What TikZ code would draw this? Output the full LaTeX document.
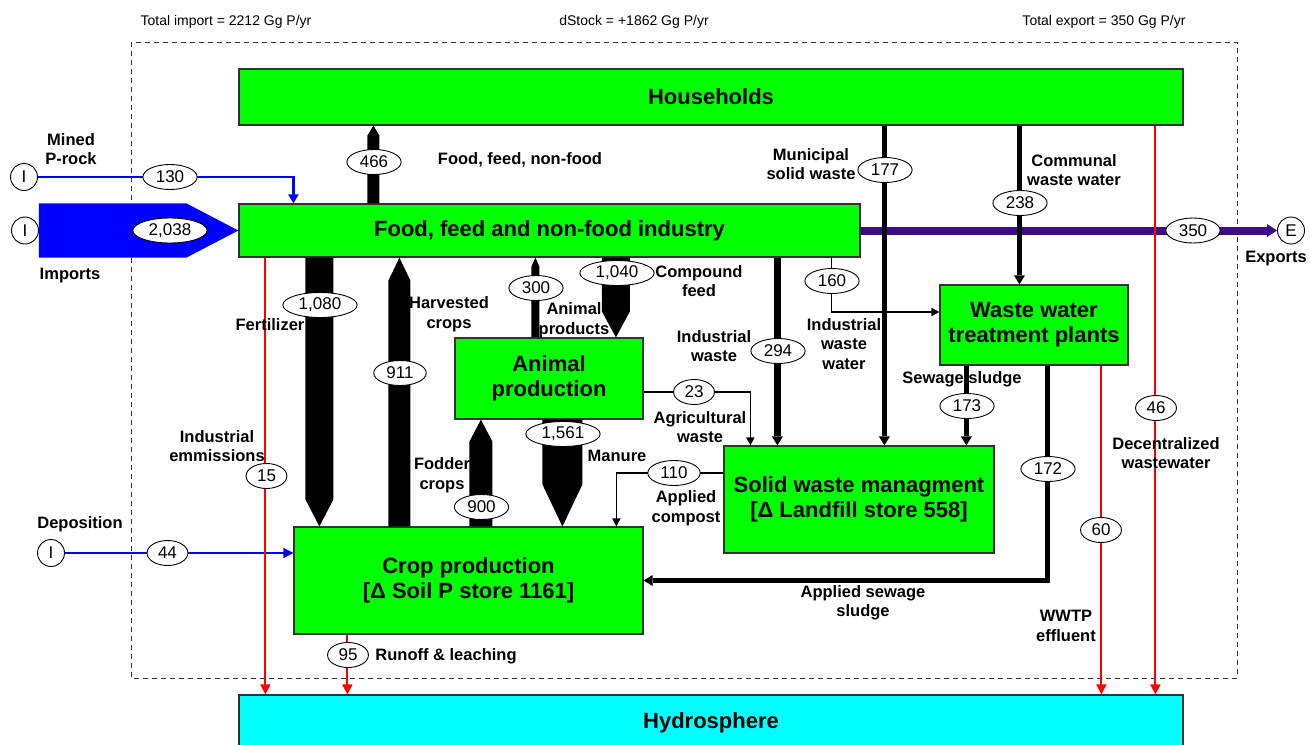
\documentclass[tikz,border=0pt]{standalone}
\usepackage{fontspec}
\setmainfont{Liberation Sans}
\usetikzlibrary{arrows.meta, shapes.geometric, calc}
\definecolor{boxgreen}{HTML}{00FF00}
\definecolor{hydrocyan}{HTML}{00FFFF}
\definecolor{inflowblue}{HTML}{0000FF}
\definecolor{exportpurple}{HTML}{3F0A8C}
\definecolor{lossred}{HTML}{FF0000}
\definecolor{edgegrey}{HTML}{333333}
% broad vertical flow: from anchor + shift, to anchor + shift, half width, head length
\newcommand{\fatflow}[6]{%
  \fill let \p1=($(#1)+(#2,0)$), \p2=($(#3)+(#4,0)$), \n1={(\y2>\y1)*2-1} in
    ({\x1-#5},\y1) -- ({\x1-#5},{\y2-(\n1)*#6}) -- (\x1,\y2)
    -- ({\x1+#5},{\y2-(\n1)*#6}) -- ({\x1+#5},\y1) -- cycle;}
\tikzset{
  procbox/.style={draw=edgegrey, line width=1.2pt, fill=boxgreen, inner sep=0pt,
    align=center, font=\fontsize{22}{25}\selectfont\bfseries},
  val/.style={ellipse, draw, fill=white, line width=0.9pt, inner xsep=5pt,
    inner ysep=0pt, minimum height=25pt, font=\fontsize{17}{17}\selectfont},
  src/.style={circle, draw, fill=white, line width=0.9pt, minimum size=27pt,
    inner sep=0pt, font=\fontsize{17}{17}\selectfont},
  lbl/.style={align=center, inner sep=0pt, font=\fontsize{16.5}{19.5}\selectfont\bfseries},
  headline/.style={inner sep=0pt, font=\fontsize{14}{16}\selectfont},
  heavyflow/.style={line width=#1, -{Triangle[length=9pt,width=11pt,line width=0pt]}},
  lightflow/.style={line width=1.6pt, -{Triangle[length=8pt,width=8pt]}},
  lossflow/.style={color=lossred, line width=1.9pt, -{Triangle[length=10pt,width=10pt]}}
}
\begin{document}
\begin{tikzpicture}[x=1pt, y=-1pt]
  \useasboundingbox (0,0) rectangle (1311,744);
  % system boundary and totals
  \draw[edgegrey, line width=1pt, dash pattern=on 5pt off 4pt] (131,42) rectangle (1237,678);
  \node[headline] (timport) at (226,22) {Total import = 2212 Gg P/yr};
  \node[headline] (dstock) at (634,22) {dStock = +1862 Gg P/yr};
  \node[headline] (texport) at (1104,22) {Total export = 350 Gg P/yr};

  % processes
  \node[procbox, minimum width=944pt, minimum height=56pt] (households) at (711,97) {Households};
  \node[procbox, minimum width=621pt, minimum height=53pt] (food) at (549.5,230.5) {Food, feed and non-food industry};
  \node[procbox, minimum width=188pt, minimum height=81pt] (animal) at (549,378.5) {Animal\\production};
  \node[procbox, minimum width=349pt, minimum height=107pt] (crop) at (468.5,580.5) {Crop production\\{}[Δ Soil P store 1161]};
  \node[procbox, minimum width=270pt, minimum height=107pt] (solid) at (859,499.5) {Solid waste managment\\{}[Δ Landfill store 558]};
  \node[procbox, minimum width=188pt, minimum height=80pt] (wwtp) at (1034,325) {Waste water\\treatment plants};
  \node[procbox, fill=hydrocyan, minimum width=944pt, minimum height=56pt] (hydro) at (711,723) {Hydrosphere};

  % sources and sink
  \node[src] (mineI) at (24,177) {I};
  \node[src] (impI) at (25,230.5) {I};
  \node[src] (depI) at (51,553) {I};
  \node[src] (expE) at (1291,230.5) {E};

  % inputs
  \fill[inflowblue] (impI.east |- food.north) -- ([xshift=-52pt]food.north west) -- (food.west)
    -- ([xshift=-52pt]food.south west) -- (impI.east |- food.south) -- cycle;
  \draw[inflowblue, line width=2.5pt, -{Triangle[length=9pt,width=10pt]}] (mineI.east) -| ([xshift=55pt]food.north west);
  \draw[inflowblue, line width=1.6pt, -{Triangle[length=10pt,width=10pt]}] (depI.east) -- (crop.west |- depI);

  % export
  \draw[exportpurple, line width=8pt, -{Triangle[length=10pt,width=13pt,line width=0pt]}] (food.east) -- (expE.west);

  % broad flows
  \fatflow{food.north west}{135}{households.south west}{135}{6pt}{10pt}
  \fatflow{food.south west}{81}{crop.north west}{26}{14pt}{27pt}
  \fatflow{crop.north west}{106}{food.south west}{161}{11pt}{23pt}
  \fatflow{animal.north west}{81}{food.south west}{297}{4pt}{9pt}
  \fatflow{food.south west}{377.5}{animal.north west}{161.5}{14pt}{26pt}
  \fatflow{crop.north west}{187.5}{animal.south west}{26.5}{11.5pt}{22pt}
  \fatflow{animal.south west}{108}{crop.north west}{269}{20pt}{42pt}

  % waste flows
  \draw[heavyflow=7pt] ([xshift=539pt]food.south west) -- ([xshift=54pt]solid.north west);
  \draw[heavyflow=4.5pt] ([xshift=646pt]households.south west) -- ([xshift=161pt]solid.north west);
  \draw[heavyflow=5pt] ([xshift=781pt]households.south west) -- ([xshift=80pt]wwtp.north west);
  \draw[heavyflow=5pt] ([xshift=27pt]wwtp.south west) -- ([xshift=243pt]solid.north west);
  \draw[heavyflow=5pt] ([xshift=108pt]wwtp.south west) |- (crop.east);
  \draw[lightflow] ([xshift=593pt]food.south west) |- ([yshift=13pt]wwtp.west);
  \draw[lightflow] ([yshift=-13.5pt]animal.east) -| ([xshift=27pt]solid.north west);
  \draw[lightflow] ([yshift=26.5pt]solid.west) -| ([xshift=323pt]crop.north west);

  % losses to water
  \draw[lossflow] ([xshift=27pt]food.south west) -- ([xshift=27pt]hydro.north west);
  \draw[lossflow] ([xshift=54pt]crop.south west) -- ([xshift=109pt]hydro.north west);
  \draw[lossflow] ([xshift=162pt]wwtp.south west) -- ([xshift=863pt]hydro.north west);
  \draw[lossflow] ([xshift=917pt]households.south west) -- ([xshift=917pt]hydro.north west);

  % flow values
  \foreach \nm/\v/\x/\y in {v2038/{2,038}/170/230.5, v130/130/170/177, v44/44/167.5/553,
      v466/466/374/162, v1080/{1,080}/320/305, v911/911/400/373, v300/300/536/288,
      v1040/{1,040}/617/273, v900/900/481.5/507, v1561/{1,561}/563/434, v23/23/694/392,
      v294/294/778/351, v177/177/885/170, v160/160/832/281, v238/238/1020/203,
      v350/350/1193/230.5, v173/173/967/406, v172/172/1048/469, v110/110/674/473,
      v15/15/266.5/476, v95/95/348/655, v60/60/1101/530, v46/46/1156/408}{%
    \node[val] (\nm) at (\x,\y) {\v};}

  % flow names
  \foreach \txt/\x/\y [count=\i] in {{Mined\\P-rock}/71/149, Imports/70/276,
      Deposition/80/524, Exports/1276/259, {Food, feed, non-food}/520/160,
      Fertilizer/270/325, {Harvested\\crops}/449/314, {Animal\\products}/574/320,
      {Compound\\feed}/699/281, {Industrial\\waste}/714/346,
      {Industrial\\waste\\water}/844/344, {Municipal\\solid waste}/811/164,
      {Communal\\waste water}/1074/170, Sewage sludge/962/379,
      {Agricultural\\waste}/700/427, Manure/617/456, {Fodder\\crops}/442/475,
      {Applied\\compost}/686/508, {Applied sewage\\sludge}/863/603,
      {Industrial\\emmissions}/217/446, {Runoff \& leaching}/446/656,
      {Decentralized\\wastewater}/1166/453, {WWTP\\effluent}/1066/626}{%
    \node[lbl] (lab\i) at (\x,\y) {\txt};}
\end{tikzpicture}
\end{document}
